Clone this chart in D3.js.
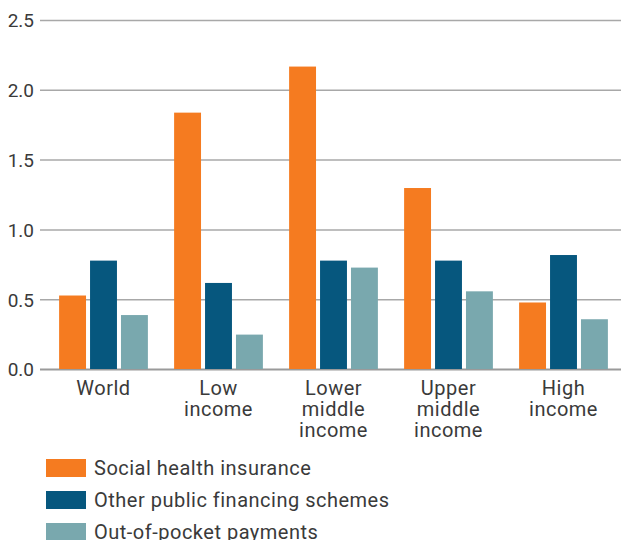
<!DOCTYPE html>
<html><head><meta charset="utf-8">
<script src="https://cdn.jsdelivr.net/npm/d3@7"></script>
<style>body{margin:0;background:#fff}svg{display:block}</style>
</head><body>
<svg id="c" width="621" height="540"></svg>
<script>
const categories = ["World", "Low income", "Lower middle income", "Upper middle income", "High income"];
const categoryLines = [["World"], ["Low", "income"], ["Lower", "middle", "income"], ["Upper", "middle", "income"], ["High", "income"]];
const seriesNames = ["Social health insurance", "Other public financing schemes", "Out-of-pocket payments"];
const socialHealthInsurance = [0.53, 1.84, 2.17, 1.30, 0.48];
const otherPublicSchemes = [0.78, 0.62, 0.78, 0.78, 0.82];
const outOfPocket = [0.39, 0.25, 0.73, 0.56, 0.36];
const yTicks = [0, 0.5, 1.0, 1.5, 2.0, 2.5];
const colors = ["#F57B20", "#06577E", "#79A8AE"];

const seriesValues = [socialHealthInsurance, otherPublicSchemes, outOfPocket];
const svg = d3.select("#c");
const font = "Roboto, 'DejaVu Sans', sans-serif";
const textColor = "#3a3a3a";

const y = d3.scaleLinear().domain([0, 2.5]).range([369.5, 20.5]);
const x0 = d3.scaleBand().domain(categories).range([46, 621]).paddingInner(0.228).paddingOuter(0.114);
const x1 = d3.scaleBand().domain(seriesNames).range([0, x0.bandwidth()]).paddingInner(0.13);

// gridlines
svg.append("g").selectAll("line").data(yTicks).join("line")
  .attr("x1", 40).attr("x2", 621)
  .attr("y1", d => y(d)).attr("y2", d => y(d))
  .attr("stroke", d => d === 0 ? "#9a9a9a" : "#a8a8a8")
  .attr("stroke-width", d => d === 0 ? 2 : 1.5);

// y tick labels
svg.append("g").selectAll("text").data(yTicks).join("text")
  .attr("x", 34).attr("y", d => y(d)).attr("dy", "0.36em")
  .attr("text-anchor", "end")
  .attr("font-family", font).attr("font-size", 19).attr("fill", textColor)
  .text(d => d.toFixed(1));

// bars
const groups = svg.append("g").selectAll("g").data(categories).join("g")
  .attr("transform", c => `translate(${x0(c)},0)`);
groups.selectAll("rect").data((c, i) => seriesNames.map((s, j) => ({s, j, v: seriesValues[j][i]})))
  .join("rect")
  .attr("x", d => x1(d.s)).attr("width", x1.bandwidth())
  .attr("y", d => y(d.v)).attr("height", d => y(0) - y(d.v) - 0.5)
  .attr("fill", d => colors[d.j]);

// category labels
const lab = svg.append("g").selectAll("text").data(categories).join("text")
  .attr("x", c => x0(c) + x0.bandwidth() / 2)
  .attr("y", 395)
  .attr("text-anchor", "middle")
  .attr("font-family", font).attr("font-size", 20).attr("letter-spacing", 0.5)
  .attr("fill", textColor);
lab.selectAll("tspan").data((c, i) => categoryLines[i]).join("tspan")
  .attr("x", function() { return this.parentNode.getAttribute("x"); })
  .attr("dy", (d, k) => k === 0 ? 0 : 21)
  .text(d => d);

// legend
const leg = svg.append("g").selectAll("g").data(seriesNames).join("g")
  .attr("transform", (d, i) => `translate(46,${459 + i * 32})`);
leg.append("rect").attr("width", 40).attr("height", 18).attr("fill", (d, i) => colors[i]);
leg.append("text").attr("x", 48).attr("y", 9).attr("dy", "0.36em")
  .attr("font-family", font).attr("font-size", 20).attr("letter-spacing", 0.5)
  .attr("fill", textColor)
  .text(d => d);
</script>
</body></html>
